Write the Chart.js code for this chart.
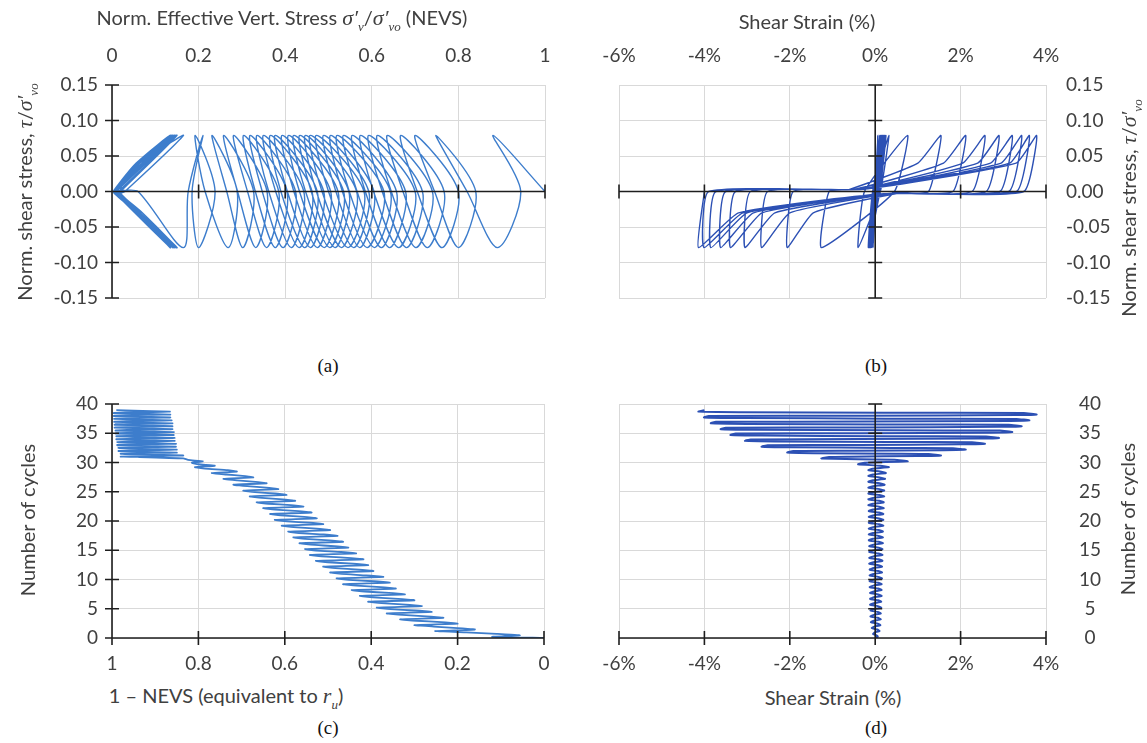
<!DOCTYPE html>
<html>
<head>
<meta charset="utf-8">
<script src="https://cdn.jsdelivr.net/npm/chart.js@4.4.1/dist/chart.umd.min.js"></script>
<style>
body { margin: 0; background: #fff; width: 1147px; height: 743px; position: relative; overflow: hidden; font-family: Lato, sans-serif; color: #404040; }
canvas { position: absolute; }
.t { position: absolute; white-space: nowrap; font-size: 20px; transform: translate(-50%, -50%); }
.v { transform: translate(-50%, -50%) rotate(-90deg); }
.m { font-family: "Liberation Serif", serif; font-style: italic; font-size: 22px; }
.m sub { font-size: 13px; }
.p { position: absolute; font-family: "Liberation Serif", serif; font-size: 19px; color: #111; transform: translate(-50%, -50%); }
</style>
</head>
<body>
<canvas id="ca" width="570" height="310" style="left:0;top:0"></canvas>
<canvas id="cb" width="577" height="310" style="left:570px;top:0"></canvas>
<canvas id="cc" width="570" height="300" style="left:0;top:380px"></canvas>
<canvas id="cd" width="577" height="300" style="left:570px;top:380px"></canvas>

<div class="t" style="left:282px;top:20px">Norm. Effective Vert. Stress <span class="m">σ′<sub>v</sub></span>/<span class="m">σ′<sub>vo</sub></span> (NEVS)</div>
<div class="t" style="left:807px;top:21px">Shear Strain (%)</div>
<div class="t v" style="left:27px;top:192px">Norm. shear stress, <span class="m">τ</span>/<span class="m">σ′<sub>vo</sub></span></div>
<div class="t v" style="left:1131px;top:208px">Norm. shear stress, <span class="m">τ</span>/<span class="m">σ′<sub>vo</sub></span></div>
<div class="t v" style="left:27px;top:520px">Number of cycles</div>
<div class="t v" style="left:1127px;top:519px">Number of cycles</div>
<div class="t" style="left:226px;top:698px">1 – NEVS (equivalent to <span class="m">r<sub>u</sub></span>)</div>
<div class="t" style="left:833px;top:697px">Shear Strain (%)</div>
<div class="p" style="left:328px;top:366px">(a)</div>
<div class="p" style="left:876px;top:366px">(b)</div>
<div class="p" style="left:328px;top:728px">(c)</div>
<div class="p" style="left:876px;top:728px">(d)</div>

<script>
// tick values
const nevsTicks = [0, 0.2, 0.4, 0.6, 0.8, 1];
const tauTicks = [-0.15, -0.10, -0.05, 0, 0.05, 0.10, 0.15];
const strainTicks = [-6, -4, -2, 0, 2, 4];
const cycleTicks = [0, 5, 10, 15, 20, 25, 30, 35, 40];

// one entry per loading cycle (0..38), read at: +peak, tau=0, -peak, tau=0
const phase = [0.2, 0.45, 0.7, 0.95];
const tauPeak = [0.079, 0, -0.079, 0];

const nevsPosPeak = [0.880, 0.748, 0.700, 0.667, 0.636, 0.613, 0.593, 0.574, 0.555, 0.535, 0.520, 0.505, 0.489, 0.472, 0.458, 0.447, 0.434, 0.420, 0.408, 0.393, 0.377, 0.366, 0.350, 0.335, 0.319, 0.304, 0.281, 0.258, 0.231, 0.192, 0.210, 0.165, 0.150, 0.148, 0.145, 0.143, 0.140, 0.138, 0.135];
const nevsZeroA = [0.944, 0.840, 0.800, 0.767, 0.740, 0.717, 0.700, 0.678, 0.657, 0.643, 0.628, 0.605, 0.593, 0.582, 0.565, 0.547, 0.535, 0.522, 0.505, 0.489, 0.474, 0.462, 0.443, 0.424, 0.404, 0.385, 0.358, 0.327, 0.289, 0.238, 0.176, 0.030, 0.020, 0.015, 0.010, 0.008, 0.006, 0.005, 0.004];
const nevsNegPeak = [0.890, 0.800, 0.762, 0.728, 0.702, 0.680, 0.662, 0.641, 0.622, 0.606, 0.589, 0.572, 0.558, 0.545, 0.530, 0.515, 0.503, 0.490, 0.474, 0.458, 0.445, 0.432, 0.414, 0.395, 0.377, 0.357, 0.332, 0.302, 0.268, 0.200, 0.165, 0.150, 0.148, 0.145, 0.143, 0.140, 0.140, 0.135, 0.134];
const nevsZeroB = [0.820, 0.745, 0.705, 0.672, 0.645, 0.624, 0.604, 0.585, 0.566, 0.548, 0.532, 0.517, 0.500, 0.485, 0.472, 0.460, 0.447, 0.433, 0.420, 0.405, 0.390, 0.378, 0.362, 0.347, 0.331, 0.313, 0.290, 0.265, 0.215, 0.185, 0.060, 0.015, 0.012, 0.010, 0.008, 0.006, 0.005, 0.004, 0.010];

const strainPosPeak = [0.06, 0.10, 0.12, 0.13, 0.13, 0.14, 0.14, 0.15, 0.15, 0.15, 0.16, 0.16, 0.16, 0.17, 0.17, 0.17, 0.18, 0.18, 0.18, 0.19, 0.19, 0.19, 0.20, 0.20, 0.21, 0.21, 0.22, 0.23, 0.25, 0.32, 0.76, 1.54, 2.12, 2.57, 2.90, 3.21, 3.43, 3.61, 3.78];
const strainZeroA = [0.03, 0.05, 0.06, 0.06, 0.06, 0.06, 0.07, 0.07, 0.07, 0.07, 0.07, 0.07, 0.08, 0.08, 0.08, 0.08, 0.08, 0.08, 0.08, 0.09, 0.09, 0.09, 0.09, 0.09, 0.10, 0.10, 0.10, 0.10, 0.11, 0.12, 0.45, 1.25, 1.82, 2.27, 2.60, 2.92, 3.13, 3.31, 3.48];
const strainNegPeak = [-0.05, -0.08, -0.10, -0.11, -0.11, -0.12, -0.12, -0.12, -0.13, -0.13, -0.13, -0.13, -0.14, -0.14, -0.14, -0.14, -0.15, -0.15, -0.15, -0.15, -0.15, -0.15, -0.16, -0.16, -0.16, -0.16, -0.16, -0.16, -0.16, -0.40, -1.26, -2.06, -2.66, -3.05, -3.39, -3.62, -3.85, -4.01, -4.14];
const strainZeroB = [-0.01, -0.02, -0.03, -0.03, -0.03, -0.03, -0.03, -0.03, -0.04, -0.04, -0.04, -0.04, -0.04, -0.04, -0.04, -0.04, -0.05, -0.05, -0.05, -0.05, -0.05, -0.05, -0.05, -0.05, -0.05, -0.05, -0.05, -0.05, -0.06, -0.25, -1.08, -1.92, -2.52, -2.92, -3.27, -3.50, -3.73, -3.90, -4.00];

// large loops after liquefaction: flat part near tau=0 and knee before each peak
const bigCycles = [31, 32, 33, 34, 35, 36, 37, 38];
const extraPhase = [0.0, 0.1, 0.5, 0.6];
const extraTau = [0.003, 0.04, -0.003, -0.03];
const strainFlatPos = [-0.60, -0.50, -0.40, -0.40, -0.35, -0.35, -0.30, -0.30];
const strainKneePos = [1.00, 1.60, 2.05, 2.40, 2.70, 2.95, 3.15, 3.30];
const strainFlatNeg = [0.50, 0.40, 0.35, 0.30, 0.30, 0.25, 0.25, 0.20];
const strainKneeNeg = [-1.45, -2.00, -2.35, -2.65, -2.85, -3.00, -3.10, -3.20];
const nevsFlat = [0.020, 0.015, 0.012, 0.010, 0.010, 0.008, 0.008, 0.006];
const nevsKnee = [0.070, 0.065, 0.062, 0.060, 0.060, 0.058, 0.058, 0.056];

const colA = 'rgb(61,125,204)';
const colB = 'rgb(44,80,180)';
const gridCol = '#d9d9d9';
const tickCol = '#404040';
const tickFont = { family: 'Lato', size: 19 };

function buildPath() {
	const pts = [{ t: 0, tau: 0, nevs: 1, strain: 0 }];
	for (let n = 0; n < nevsPosPeak.length; n++) {
		const b = bigCycles.indexOf(n);
		if (b >= 0) {
			pts.push({ t: n + extraPhase[0], tau: extraTau[0], nevs: nevsFlat[b], strain: strainFlatPos[b] });
			pts.push({ t: n + extraPhase[1], tau: extraTau[1], nevs: nevsKnee[b], strain: strainKneePos[b] });
		}
		pts.push({ t: n + phase[0], tau: tauPeak[0], nevs: nevsPosPeak[n], strain: strainPosPeak[n] });
		pts.push({ t: n + phase[1], tau: tauPeak[1], nevs: nevsZeroA[n], strain: strainZeroA[n] });
		if (b >= 0) {
			pts.push({ t: n + extraPhase[2], tau: extraTau[2], nevs: nevsFlat[b], strain: strainFlatNeg[b] });
			pts.push({ t: n + extraPhase[3], tau: extraTau[3], nevs: nevsKnee[b], strain: strainKneeNeg[b] });
		}
		pts.push({ t: n + phase[2], tau: tauPeak[2], nevs: nevsNegPeak[n], strain: strainNegPeak[n] });
		pts.push({ t: n + phase[3], tau: tauPeak[3], nevs: nevsZeroB[n], strain: strainZeroB[n] });
	}
	return pts;
}

// black axes through the plot with cross tick marks
const crossAxes = {
	id: 'crossAxes',
	afterDatasetsDraw(chart, args, o) {
		const { ctx, chartArea: a, scales: { x, y } } = chart;
		const px = x.getPixelForValue(o.x);
		const py = y.getPixelForValue(o.y);
		ctx.save();
		ctx.strokeStyle = '#1e1e1e';
		ctx.lineWidth = 1.6;
		ctx.beginPath();
		ctx.moveTo(a.left, py); ctx.lineTo(a.right, py);
		ctx.moveTo(px, a.top); ctx.lineTo(px, a.bottom);
		x.ticks.forEach(t => {
			const p = x.getPixelForValue(t.value);
			ctx.moveTo(p, py - 7); ctx.lineTo(p, py + 7);
		});
		y.ticks.forEach(t => {
			const p = y.getPixelForValue(t.value);
			ctx.moveTo(px - 7, p); ctx.lineTo(px + 7, p);
		});
		ctx.stroke();
		ctx.restore();
	}
};

function axis(pos, min, max, vals, fmt, thick, pad, extra) {
	return Object.assign({
		type: 'linear',
		position: pos,
		min: min,
		max: max,
		grid: { color: gridCol, lineWidth: 1, drawTicks: false },
		border: { display: false },
		ticks: { font: tickFont, color: tickCol, padding: pad, callback: fmt, autoSkip: false, maxRotation: 0 },
		afterBuildTicks: s => { s.ticks = vals.map(v => ({ value: v })); },
		afterFit: s => {
			if (pos === 'top' || pos === 'bottom') s.height = thick;
			else s.width = thick;
			// keep the plot box exactly where the layout padding puts it
			s.paddingTop = 0; s.paddingBottom = 0; s.paddingLeft = 0; s.paddingRight = 0;
		}
	}, extra || {});
}

const fmtNevs = v => String(+v.toFixed(1));
const fmtTau = v => (Math.abs(v) < 1e-9 ? 0 : v).toFixed(2);
const fmtStrain = v => Math.round(v) + '%';
const fmtCycle = v => String(Math.round(v));

function panel(id, pad, xs, ys, data, color, width, tension, cross) {
	return new Chart(document.getElementById(id), {
		type: 'scatter',
		data: {
			datasets: [{
				data: data,
				showLine: true,
				borderColor: color,
				borderWidth: width,
				pointRadius: 0,
				tension: tension,
				fill: false
			}]
		},
		options: {
			responsive: false,
			maintainAspectRatio: false,
			animation: false,
			events: [],
			layout: { padding: pad },
			scales: { x: xs, y: ys },
			plugins: { legend: { display: false }, tooltip: { enabled: false }, crossAxes: cross }
		},
		plugins: [crossAxes]
	});
}

const path = buildPath();

panel('ca', { left: 0, top: 0, right: 25, bottom: 12 },
	axis('top', 0, 1, nevsTicks, fmtNevs, 85, 18),
	axis('left', -0.15, 0.15, tauTicks, fmtTau, 112, 14),
	path.map(p => ({ x: p.nevs, y: p.tau })), colA, 1.4, 0.3, { x: 0, y: 0 });

panel('cb', { left: 49, top: 0, right: 0, bottom: 12 },
	axis('top', -6, 4, strainTicks, fmtStrain, 85, 18),
	axis('right', -0.15, 0.15, tauTicks, fmtTau, 101, 20),
	path.map(p => ({ x: p.strain, y: p.tau })), colB, 1.4, 0.15, { x: 0, y: 0 });

panel('cc', { left: 0, top: 24, right: 26, bottom: 0 },
	axis('bottom', 0, 1, nevsTicks, fmtNevs, 42, 14, { reverse: true }),
	axis('left', 0, 40, cycleTicks, fmtCycle, 112, 14),
	path.map(p => ({ x: 1 - p.nevs, y: p.t })), colA, 1.8, 0.15, { x: 1, y: 0 });

const yd = axis('right', 0, 40, cycleTicks, fmtCycle, 101, 33);
yd.ticks.crossAlign = 'center';
panel('cd', { left: 49, top: 24, right: 0, bottom: 0 },
	axis('bottom', -6, 4, strainTicks, fmtStrain, 42, 14),
	yd,
	path.map(p => ({ x: p.strain, y: p.t })), colB, 2, 0.15, { x: 0, y: 0 });
</script>
</body>
</html>
